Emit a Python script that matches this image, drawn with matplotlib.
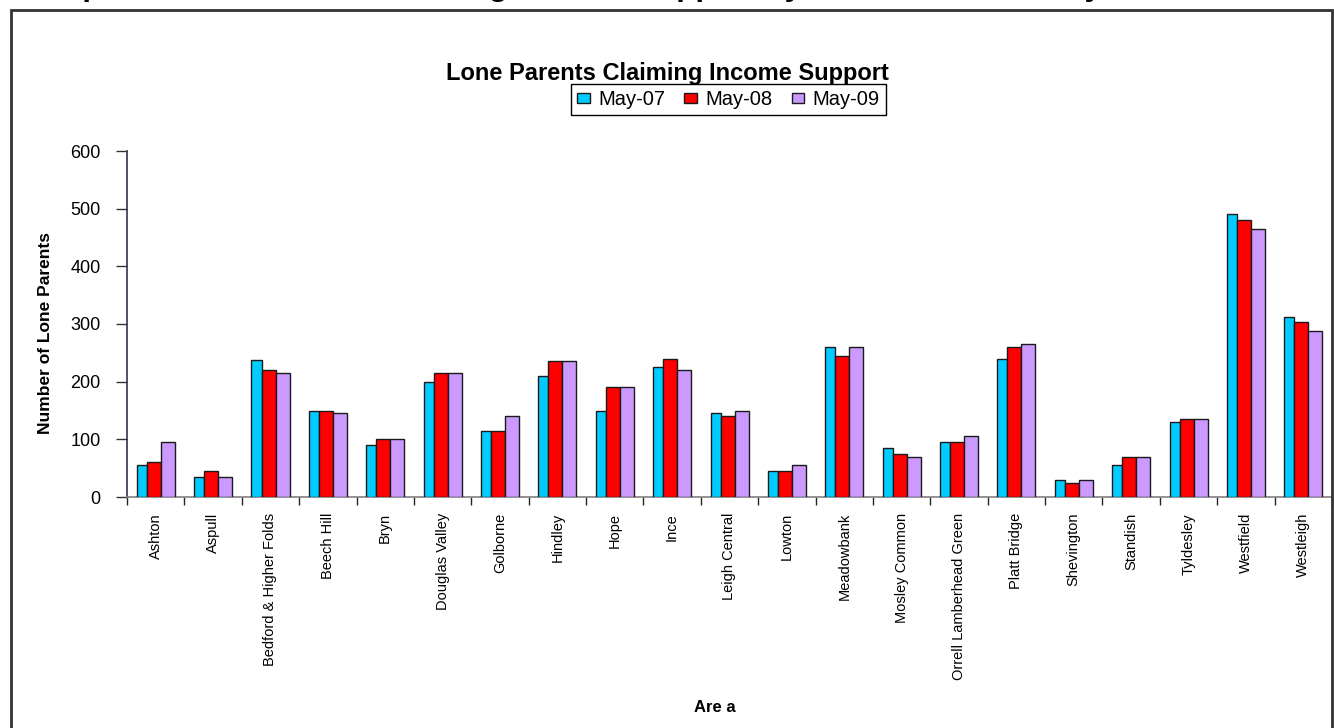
import numpy as np
import matplotlib
matplotlib.use("Agg")
import matplotlib.pyplot as plt
from matplotlib.patches import Rectangle
from matplotlib.ticker import FixedLocator, NullFormatter

plt.rcParams['font.family'] = ['Liberation Sans', 'DejaVu Sans']

# data
areas = ["Ashton", "Aspull", "Bedford & Higher Folds", "Beech Hill", "Bryn",
         "Douglas Valley", "Golborne", "Hindley", "Hope", "Ince", "Leigh Central",
         "Lowton", "Meadowbank", "Mosley Common", "Orrell Lamberhead Green",
         "Platt Bridge", "Shevington", "Standish", "Tyldesley", "Westfield", "Westleigh"]
may07 = [55, 35, 237, 150, 90, 200, 115, 210, 150, 225, 145, 45, 260, 85, 95, 240, 30, 55, 130, 490, 313]
may08 = [60, 45, 220, 150, 100, 215, 115, 235, 190, 240, 140, 45, 245, 75, 95, 260, 25, 70, 135, 480, 303]
may09 = [95, 35, 215, 145, 100, 215, 140, 235, 190, 220, 150, 55, 260, 70, 105, 265, 30, 70, 135, 465, 288]
series_names = ["May-07", "May-08", "May-09"]
colors = ["#00CCFF", "#FF0000", "#CC99FF"]
yticks = [0, 100, 200, 300, 400, 500, 600]

W, H = 1334, 728
fig = plt.figure(figsize=(W / 100, H / 100), dpi=100)
ax = fig.add_axes([127 / W, 1 - 497 / H, (1332 - 127) / W, 346 / H])

x = np.arange(len(areas))
# cyan bar appears narrower (partly hidden) in the original
lefts = [-0.331, -0.156, 0.088]
widths = [0.175, 0.244, 0.244]
for vals, name, c, l, w in zip([may07, may08, may09], series_names, colors, lefts, widths):
    ax.bar(x + l, vals, width=w, align='edge', color=c, edgecolor='#1a1a1a',
           linewidth=1.0, label=name, zorder=3)

ax.set_xlim(-0.5, len(areas) - 0.5)
ax.set_ylim(0, 600)
ax.set_yticks(yticks)
ax.tick_params(axis='y', length=8, width=1, pad=11, labelsize=13, color='#333333')

ax.set_xticks(x)
ax.set_xticklabels(areas, rotation=90, fontsize=10.5, va='top', ha='center')
ax.xaxis.set_minor_locator(FixedLocator(np.arange(-0.5, len(areas), 1.0)))
ax.xaxis.set_minor_formatter(NullFormatter())
ax.tick_params(axis='x', which='major', length=0, pad=11.5)
ax.tick_params(axis='x', which='minor', length=6, width=1, color='#222222')

for s in ['top', 'right']:
    ax.spines[s].set_visible(False)
ax.spines['left'].set_color('#3a3050')
ax.spines['bottom'].set_color('#808080')
ax.spines['left'].set_linewidth(1.2)
ax.spines['bottom'].set_linewidth(1.2)

ax.set_ylabel("Number of Lone Parents", fontsize=12.5, fontweight='bold')
ax.yaxis.set_label_coords(-0.0614, 0.474)
ax.set_xlabel("Are a", fontsize=12, fontweight='bold', va='top')
ax.xaxis.set_label_coords(0.488, -0.587)

fig.text(667 / W, 1 - 80 / H, "Lone Parents Claiming Income Support",
         fontsize=17, fontweight='bold', ha='center', va='baseline')

leg = ax.legend(loc='center', bbox_to_anchor=(728.5 / W, 1 - 99.5 / H),
                bbox_transform=fig.transFigure, ncol=3, fontsize=14.5,
                frameon=True, fancybox=False, shadow=False, framealpha=1,
                edgecolor='black', handlelength=0.62, handleheight=0.4,
                handletextpad=0.42, columnspacing=0.95, borderpad=0.3,
                borderaxespad=0)
leg.get_frame().set_linewidth(1.0)

# outer chart frame
fig.patches.append(Rectangle((10.5 / W, -0.05), (1331.5 - 10.5) / W, 1 - 10 / H + 0.05,
                             transform=fig.transFigure, fill=False,
                             edgecolor='#333333', linewidth=2))

# page heading cut off at the top edge
fig.text(28 / W, 1 + 5.5 / H,
         "Graph 9: Lone Parents Claiming Income Support by Ward 2007 and May 2009",
         fontsize=22.7, fontweight='bold', ha='left', va='baseline')

fig.savefig("out.png", dpi=100)
